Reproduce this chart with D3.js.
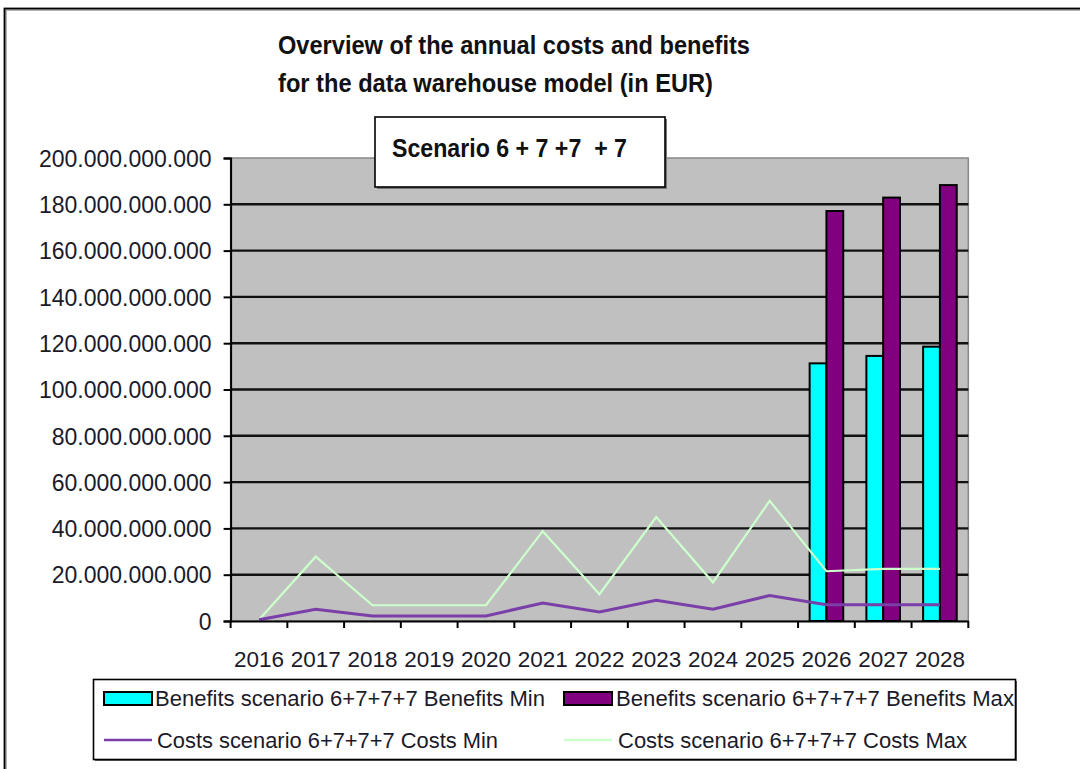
<!DOCTYPE html>
<html>
<head>
<meta charset="utf-8">
<script src="https://cdn.jsdelivr.net/npm/d3@7/dist/d3.min.js"></script>
<style>
  html, body { margin: 0; padding: 0; background: #fff; }
  svg { display: block; }
  text { white-space: pre; }
</style>
</head>
<body>
<svg id="chart" width="1080" height="769"></svg>
<script>
// ---- data (EUR) ----
const years = ["2016","2017","2018","2019","2020","2021","2022","2023","2024","2025","2026","2027","2028"];
const benefitsMin = [null,null,null,null,null,null,null,null,null,null,111300000000,114500000000,118500000000];
const benefitsMax = [null,null,null,null,null,null,null,null,null,null,177100000000,182900000000,188300000000];
const costsMin = [500000000,5100000000,2200000000,2200000000,2200000000,7800000000,3900000000,9000000000,5100000000,11000000000,7000000000,7000000000,7000000000];
const costsMax = [500000000,27800000000,6800000000,6800000000,6800000000,38800000000,11600000000,44900000000,16700000000,51900000000,21500000000,22500000000,22500000000];
const yTicks = [0,20000000000,40000000000,60000000000,80000000000,100000000000,120000000000,140000000000,160000000000,180000000000,200000000000];
const titleLines = ["Overview of the annual costs and benefits","for the data warehouse model (in EUR)"];
const subtitle = "Scenario 6 + 7 +7  + 7";
const seriesNames = ["Benefits scenario 6+7+7+7 Benefits Min","Benefits scenario 6+7+7+7 Benefits Max","Costs scenario 6+7+7+7 Costs Min","Costs scenario 6+7+7+7 Costs Max"];

const svg = d3.select("#chart");
const font = "'Liberation Sans', Arial, sans-serif";
const titleFont = "'Liberation Sans Narrow', 'Liberation Sans', Arial, sans-serif";

// outer frame
svg.append("rect").attr("x",6).attr("y",10).attr("width",1200).attr("height",900)
  .attr("fill","none").attr("stroke","#999").attr("stroke-width",1.5);
svg.append("rect").attr("x",4.5).attr("y",8.5).attr("width",1200).attr("height",900)
  .attr("fill","none").attr("stroke","#000").attr("stroke-width",1.8);

const plot = {left:230.6, right:968.3, top:158, bottom:621};

const x = d3.scaleBand().domain(years).range([plot.left, plot.right]).padding(0);
const y = d3.scaleLinear().domain([0,200000000000]).range([plot.bottom, plot.top]);
const locale = d3.formatLocale({decimal:",", thousands:".", grouping:[3], currency:["","€"]});
const fmt = locale.format(",.0f");

// plot area
svg.append("rect").attr("x",plot.left).attr("y",plot.top)
  .attr("width",plot.right-plot.left).attr("height",plot.bottom-plot.top)
  .attr("fill","#c0c0c0").attr("stroke","#888").attr("stroke-width",1.5);

// gridlines
svg.append("g").selectAll("line").data(yTicks.filter(d => d>0 && d<200000000000)).join("line")
  .attr("x1",plot.left).attr("x2",plot.right)
  .attr("y1",d=>y(d)).attr("y2",d=>y(d))
  .attr("stroke","#111").attr("stroke-width",2.4);

// bars
const bw = 16.8;
const barG = svg.append("g");
years.forEach((yr,i) => {
  const cx = x(yr) + x.bandwidth()/2;
  if (benefitsMin[i] != null) {
    barG.append("rect").attr("x",cx-bw).attr("y",y(benefitsMin[i]))
      .attr("width",bw).attr("height",y(0)-y(benefitsMin[i]))
      .attr("fill","#00ffff").attr("stroke","#000").attr("stroke-width",2);
  }
  if (benefitsMax[i] != null) {
    barG.append("rect").attr("x",cx).attr("y",y(benefitsMax[i]))
      .attr("width",bw).attr("height",y(0)-y(benefitsMax[i]))
      .attr("fill","#800080").attr("stroke","#000").attr("stroke-width",2);
  }
});

// lines
const lineGen = d3.line().x((d,i)=>x(years[i])+x.bandwidth()/2).y(d=>y(d));
svg.append("path").datum(costsMax).attr("d",lineGen)
  .attr("fill","none").attr("stroke","#ccffcc").attr("stroke-width",2.2);
svg.append("path").datum(costsMin).attr("d",lineGen)
  .attr("fill","none").attr("stroke","#7a3fa8").attr("stroke-width",3);

// y axis
const yAxis = d3.axisLeft(y).tickValues(yTicks).tickFormat(fmt).tickSize(7).tickPadding(12);
const gy = svg.append("g").attr("transform",`translate(${plot.left},0)`).call(yAxis);
gy.select(".domain").attr("stroke","#000").attr("stroke-width",2);
gy.selectAll(".tick line").attr("stroke","#000").attr("stroke-width",2);
gy.selectAll(".tick text").attr("font-family",font).attr("font-size",23).attr("fill","#1a1a2a")
  .attr("dy","0.36em");

// x axis
const xAxis = d3.axisBottom(x).tickSize(0).tickPadding(30);
const gx = svg.append("g").attr("transform",`translate(0,${plot.bottom})`).call(xAxis);
gx.select(".domain").attr("stroke","#000").attr("stroke-width",2);
gx.selectAll(".tick text").attr("font-family",font).attr("font-size",22.5).attr("fill","#1a1a2a")
  .attr("textLength",50).attr("lengthAdjust","spacingAndGlyphs");
// category boundary ticks
gx.append("g").selectAll("line").data(years.concat(["end"])).join("line")
  .attr("x1",(d,i)=> i<years.length ? x(d) : plot.right)
  .attr("x2",(d,i)=> i<years.length ? x(d) : plot.right)
  .attr("y1",0).attr("y2",7).attr("stroke","#000").attr("stroke-width",2);

// title
const titleY = [45, 83];
const titleLen = [472, 435];
titleLines.forEach((t,i) => {
  svg.append("text").attr("x",278).attr("y",titleY[i]).attr("dy","0.35em")
    .attr("font-family",titleFont).attr("font-weight","bold").attr("font-size",26.5)
    .attr("fill","#111").attr("textLength",titleLen[i]).attr("lengthAdjust","spacingAndGlyphs")
    .text(t);
});

// subtitle box
svg.append("rect").attr("x",377).attr("y",119).attr("width",290).attr("height",70)
  .attr("fill","#777");
svg.append("rect").attr("x",375).attr("y",117).attr("width",290).attr("height",70)
  .attr("fill","#fff").attr("stroke","#000").attr("stroke-width",1.6);
svg.append("text").attr("x",392).attr("y",148).attr("dy","0.35em")
  .attr("font-family",titleFont).attr("font-weight","bold").attr("font-size",26.5)
  .attr("fill","#111").attr("textLength",235).attr("lengthAdjust","spacingAndGlyphs")
  .text(subtitle);

// legend
const lg = svg.append("g");
lg.append("rect").attr("x",95).attr("y",681).attr("width",922).attr("height",80).attr("fill","#666");
lg.append("rect").attr("x",93.5).attr("y",679.5).attr("width",922).attr("height",80)
  .attr("fill","#fff").attr("stroke","#000").attr("stroke-width",1.6);
const legendItems = [
  {name:seriesNames[0], type:"bar", color:"#00ffff", sx:104, tx:155, ty:698, len:390},
  {name:seriesNames[1], type:"bar", color:"#800080", sx:564, tx:616, ty:698, len:398},
  {name:seriesNames[2], type:"line", color:"#7a3fa8", sx:104, tx:157, ty:740, len:341},
  {name:seriesNames[3], type:"line", color:"#ccffcc", sx:564, tx:618, ty:740, len:349}
];
legendItems.forEach(it => {
  if (it.type === "bar") {
    lg.append("rect").attr("x",it.sx).attr("y",it.ty-6).attr("width",48).attr("height",13)
      .attr("fill",it.color).attr("stroke","#000").attr("stroke-width",2);
  } else {
    lg.append("line").attr("x1",it.sx).attr("x2",it.sx+48).attr("y1",it.ty).attr("y2",it.ty)
      .attr("stroke",it.color).attr("stroke-width",2.4);
  }
  lg.append("text").attr("x",it.tx).attr("y",it.ty).attr("dy","0.36em")
    .attr("font-family",font).attr("font-size",22).attr("fill","#1a1a2a")
    .attr("textLength",it.len).attr("lengthAdjust","spacingAndGlyphs").text(it.name);
});
</script>
</body>
</html>
